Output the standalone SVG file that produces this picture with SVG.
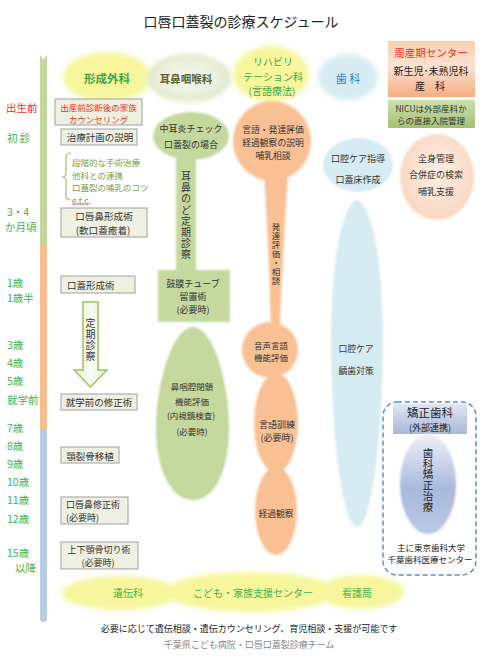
<svg xmlns="http://www.w3.org/2000/svg" width="480" height="665" viewBox="0 0 480 665">
<defs>
<style>
text{font-family:"Noto Sans CJK JP","Noto Sans CJK SC",sans-serif;dominant-baseline:central;text-anchor:middle;fill:#333;}
.lbl{font-size:10.5px;fill:#3db54a;text-anchor:start;}
.box{fill:#eef0e2;stroke:#a8a8a8;stroke-width:1.1;}
.bt{font-size:9.5px;fill:#333;}
.st{font-size:9px;fill:#333;}
.vt{writing-mode:vertical-rl;text-orientation:upright;text-anchor:start;}
.grn{fill:#c5d89e;}
.org{fill:#f9c193;}
.blu{fill:#d7ebf3;}
</style>
<filter id="soft" x="-30%" y="-30%" width="160%" height="160%"><feGaussianBlur stdDeviation="2.5"/></filter>
<filter id="soft1" x="-20%" y="-20%" width="140%" height="140%"><feGaussianBlur stdDeviation="1"/></filter>
<radialGradient id="gEnt" cx="50%" cy="50%" r="50%"><stop offset="0" stop-color="#f4f7ec"/><stop offset="0.7" stop-color="#ebf0dd"/><stop offset="1" stop-color="#dde6c6"/></radialGradient>
<radialGradient id="gPeach" cx="50%" cy="45%" r="55%"><stop offset="0" stop-color="#fdeee4"/><stop offset="1" stop-color="#f9d7c1"/></radialGradient>
<linearGradient id="gPeri" x1="0" y1="0" x2="0" y2="1"><stop offset="0" stop-color="#fbcfb2"/><stop offset="0.45" stop-color="#fde3d2"/><stop offset="1" stop-color="#f5ad80"/></linearGradient>
<linearGradient id="gNicu" x1="0" y1="0" x2="0" y2="1"><stop offset="0" stop-color="#cfe0ad"/><stop offset="1" stop-color="#a3c172"/></linearGradient>
<linearGradient id="gOrtho" x1="0" y1="0" x2="0" y2="1"><stop offset="0" stop-color="#dfe5f1"/><stop offset="1" stop-color="#a9b9d9"/></linearGradient>
<linearGradient id="gOrthoE" x1="0" y1="0" x2="0" y2="1"><stop offset="0" stop-color="#eef1f8"/><stop offset="0.55" stop-color="#a8b9dc"/><stop offset="1" stop-color="#bcc9e4"/></linearGradient>
<linearGradient id="gArrow" x1="0" y1="0" x2="1" y2="0"><stop offset="0" stop-color="#e6efd2"/><stop offset="0.5" stop-color="#f8fbf1"/><stop offset="1" stop-color="#e6efd2"/></linearGradient>
</defs>
<rect width="480" height="665" fill="#fff"/>

<text x="241" y="21" style="font-size:14px;fill:#222">口唇口蓋裂の診療スケジュール</text>

<g id="timeline">
<polygon points="40,55 43.5,59.5 47,55 47,246 40,246" fill="#c3d69b"/>
<rect x="40" y="245" width="7" height="186" fill="#f9bf8f"/>
<path d="M40,430 H47 V619 Q47,622 43.5,622 Q40,622 40,619 Z" fill="#b8cce4"/>
</g>

<g id="age-labels">
<text class="lbl" x="6" y="107" style="fill:#ee3124">出生前</text>
<text class="lbl" x="7" y="137">初 診</text>
<text class="lbl"><tspan x="7" y="211">3・4</tspan><tspan x="5" y="226.3">か月頃</tspan></text>
<text class="lbl"><tspan x="7" y="281.5">1歳</tspan><tspan x="7" y="296.8">1歳半</tspan></text>
<text class="lbl" x="7" y="344">3歳</text>
<text class="lbl" x="7" y="362">4歳</text>
<text class="lbl" x="7" y="380">5歳</text>
<text class="lbl" x="7" y="399">就学前</text>
<text class="lbl" x="7" y="427">7歳</text>
<text class="lbl" x="7" y="445">8歳</text>
<text class="lbl" x="7" y="463">9歳</text>
<text class="lbl" x="7" y="481">10歳</text>
<text class="lbl" x="7" y="499">11歳</text>
<text class="lbl" x="7" y="518">12歳</text>
<text class="lbl"><tspan x="7" y="552">15歳</tspan><tspan x="15" y="567.3">以降</tspan></text>
</g>

<g id="header-plastic">
<ellipse cx="107" cy="77" rx="44" ry="25" fill="#f7f69c" filter="url(#soft)"/>
<text x="107" y="78" style="font-size:11.5px;fill:#39a845;font-weight:bold">形成外科</text>
</g>
<g id="header-ent">
<ellipse cx="189" cy="78" rx="42" ry="24" fill="url(#gEnt)" filter="url(#soft)"/>
<text x="186" y="78" style="font-size:10.5px;fill:#5d6233;font-weight:bold">耳鼻咽喉科</text>
</g>
<g id="header-rehab">
<ellipse cx="271" cy="74" rx="38" ry="28" fill="#f7f69c" filter="url(#soft)"/>
<text style="font-size:10px;fill:#39a845"><tspan x="273" y="61">リハビリ</tspan><tspan x="273" y="75.5">テーション科</tspan><tspan x="272" y="90">(言語療法)</tspan></text>
</g>
<g id="header-dental">
<ellipse cx="348" cy="77" rx="30" ry="23" fill="#d7ebf3" filter="url(#soft)"/>
<text x="348" y="78" style="font-size:11px;fill:#3d7cc9">歯 科</text>
</g>
<g id="perinatal">
<rect x="388" y="41" width="87" height="56" fill="url(#gPeri)"/>
<text style="font-size:10px;fill:#222"><tspan x="431" y="52" style="font-size:10.5px;fill:#ee3124">周産期センター</tspan><tspan x="431" y="70">新生児･未熟児科</tspan><tspan x="430" y="85">産　科</tspan></text>
</g>
<g id="nicu">
<rect x="388" y="100" width="87" height="28" fill="url(#gNicu)"/>
<text class="st" style="font-size:8.5px"><tspan x="431" y="107.5">NICUは外部産科か</tspan><tspan x="431" y="120">らの直接入院管理</tspan></text>
</g>

<g id="prenatal-counseling">
<rect class="box" x="55" y="99" width="87" height="26"/>
<text style="font-size:8.5px;fill:#ee3124"><tspan x="98.5" y="106.5">出産前診断後の家族</tspan><tspan x="98.5" y="119">カウンセリング</tspan></text>
</g>
<g id="treatment-plan">
<rect class="box" x="61" y="129" width="76" height="16"/>
<text class="bt" x="100" y="137">治療計画の説明</text>
</g>
<g id="plan-notes">
<path d="M71,153 Q66,153 66,157 V173 Q66,177 62,177 Q66,177 66,181 V196 Q66,200 71,200" fill="none" stroke="#a3c271" stroke-width="1.2"/>
<text style="font-size:8.5px;fill:#7f9c47;text-anchor:start"><tspan x="72" y="162">段階的な手術治療</tspan><tspan x="72" y="174.5">他科との連携</tspan><tspan x="72" y="187">口蓋裂の哺乳のコツ</tspan><tspan x="72" y="199.5">e.t.c.</tspan></text>
<path d="M72,205 l1.5,-1 l1.5,1 l1.5,-1 l1.5,1 l1.5,-1 l1.5,1 l1.5,-1 l1.5,1 l1.5,-1 l1.5,1 l1.5,-1" fill="none" stroke="#e05050" stroke-width="0.7"/>
</g>
<g id="lip-nose-plasty">
<rect class="box" x="61" y="208" width="86" height="29"/>
<text style="font-size:9.6px"><tspan x="104" y="215.7">口唇鼻形成術</tspan><tspan x="103" y="229.7">(軟口蓋癒着)</tspan></text>
</g>
<g id="palatoplasty">
<rect class="box" x="61" y="276" width="74" height="17"/>
<text class="bt" x="67" y="285" style="text-anchor:start">口蓋形成術</text>
</g>
<g id="preschool-revision">
<rect class="box" x="61" y="394" width="76" height="16"/>
<text class="bt" x="99" y="402">就学前の修正術</text>
</g>
<g id="bone-graft">
<rect class="box" x="61" y="447" width="58" height="16"/>
<text class="bt" x="90" y="455.5">顎裂骨移植</text>
</g>
<g id="lip-nose-revision">
<rect class="box" x="61" y="497" width="67" height="27"/>
<text style="font-size:9px;text-anchor:start"><tspan x="66" y="504">口唇鼻修正術</tspan><tspan x="66" y="517.3">(必要時)</tspan></text>
</g>
<g id="orthognathic">
<rect class="box" x="61" y="542" width="77" height="27"/>
<text style="font-size:9px"><tspan x="99" y="549">上下顎骨切り術</tspan><tspan x="98" y="562.3">(必要時)</tspan></text>
</g>

<g id="connectors">
<polygon points="83,302 98,302 98,370 107,370 90.5,387 74,370 83,370" fill="url(#gArrow)" stroke="#9dc35e" stroke-width="1.5" stroke-linejoin="miter"/>
<text class="vt" x="90.5" y="318.5" style="font-size:10px;letter-spacing:1px">定期診察</text>
</g>

<g id="ent-column">
<g filter="url(#soft1)">
<ellipse class="grn" cx="191" cy="136" rx="38" ry="24"/>
<rect class="grn" x="176" y="150" width="20" height="125"/>
<rect class="grn" x="158" y="270" width="72" height="52"/>
</g>
<text class="st"><tspan x="191" y="128">中耳炎チェック</tspan><tspan x="191" y="144">口蓋裂の場合</tspan></text>
<text class="vt" x="186" y="171.5" style="font-size:10px;letter-spacing:1.1px">耳鼻のど定期診察</text>
<text style="font-size:9px"><tspan x="193" y="283">鼓膜チューブ</tspan><tspan x="193" y="296.2">留置術</tspan><tspan x="193" y="309.4">(必要時)</tspan></text>
</g>
<g id="velopharyngeal">
<path class="grn" filter="url(#soft1)" d="M193,327 C214,327 229,385 229,428 C229,472 214,500 193,500 C172,500 156,472 156,428 C156,385 172,327 193,327 Z"/>
<text style="font-size:8.5px"><tspan x="192" y="386">鼻咽腔閉鎖</tspan><tspan x="192" y="401">機能評価</tspan><tspan x="191" y="415">(内視鏡検査)</tspan><tspan x="192" y="431">(必要時)</tspan></text>
</g>

<g id="rehab-column">
<g filter="url(#soft1)">
<ellipse class="org" cx="272" cy="141" rx="39" ry="40"/>
<path class="org" d="M264,172 C267,225 270,285 271,330 L280,330 C281,285 285,225 288,172 Z"/>
</g>
<text style="font-size:8.8px"><tspan x="273" y="129">言語・発達評価</tspan><tspan x="273" y="142.2">経過観察の説明</tspan><tspan x="273" y="155.4">哺乳相談</tspan></text>
<text class="vt" x="276" y="222.5" style="font-size:8.5px;letter-spacing:0.5px">発達評価・相談</text>
</g>
<g id="voice-eval">
<ellipse class="org" filter="url(#soft1)" cx="270" cy="350" rx="28" ry="28"/>
<text style="font-size:8.5px"><tspan x="271" y="344.5">音声言語</tspan><tspan x="271" y="357">機能評価</tspan></text>
</g>
<g id="speech-training">
<ellipse class="org" filter="url(#soft1)" cx="276" cy="423" rx="22" ry="50"/>
<text style="font-size:9px"><tspan x="277" y="424">言語訓練</tspan><tspan x="277" y="437.3">(必要時)</tspan></text>
</g>
<g id="follow-up">
<ellipse class="org" filter="url(#soft1)" cx="276" cy="511" rx="21" ry="44"/>
<text x="276" y="513" style="font-size:8.8px">経過観察</text>
</g>

<g id="dental-column">
<path class="blu" filter="url(#soft1)" d="M357,200 C372,204 383,262 383,340 C383,430 372,527 357,527 C342,527 331,430 331,340 C331,262 342,204 357,200 Z"/>
<ellipse class="blu" filter="url(#soft1)" cx="358" cy="165" rx="35" ry="27"/>
<text class="st"><tspan x="358" y="158">口腔ケア指導</tspan><tspan x="358" y="179">口蓋床作成</tspan></text>
<text style="font-size:8.8px"><tspan x="356" y="348">口腔ケア</tspan><tspan x="356" y="370">齲歯対策</tspan></text>
</g>

<g id="general-care">
<ellipse cx="437" cy="177" rx="37" ry="43" fill="url(#gPeach)" filter="url(#soft1)"/>
<text class="st"><tspan x="436" y="158">全身管理</tspan><tspan x="436" y="174">合併症の検索</tspan><tspan x="436" y="191">哺乳支援</tspan></text>
</g>

<g id="orthodontics">
<rect x="383" y="402" width="93" height="173" rx="14" fill="none" stroke="#5b8fd6" stroke-width="1.5" stroke-dasharray="5,3"/>
<rect x="393" y="404" width="74" height="30" fill="url(#gOrtho)"/>
<text style="fill:#222"><tspan x="430" y="412" style="font-size:11.5px">矯正歯科</tspan><tspan x="430" y="427" style="font-size:9px">(外部連携)</tspan></text>
<ellipse cx="428" cy="484" rx="28" ry="50" fill="url(#gOrthoE)" filter="url(#soft1)"/>
<text class="vt" x="428" y="447.6" style="font-size:10.5px;letter-spacing:0.3px;fill:#222">歯科矯正治療</text>
<text style="font-size:8.5px;fill:#222"><tspan x="431" y="546.5">主に東京歯科大学</tspan><tspan x="430" y="559">千葉歯科医療センター</tspan></text>
</g>

<g id="support-services">
<g filter="url(#soft)" fill="#f7f69c">
<ellipse cx="120" cy="593" rx="58" ry="17"/>
<ellipse cx="251" cy="592" rx="86" ry="20"/>
<ellipse cx="361" cy="592" rx="43" ry="17"/>
</g>
<text x="128" y="592" style="font-size:10px;fill:#3cb44a">遺伝科</text>
<text x="253" y="592" style="font-size:10px;fill:#3cb44a">こども・家族支援センター</text>
<text x="357" y="592" style="font-size:10px;fill:#3cb44a">看護局</text>
</g>

<text x="249" y="628" style="font-size:9px;fill:#222">必要に応じて遺伝相談・遺伝カウンセリング、育児相談・支援が可能です</text>
<text x="249" y="644" style="font-size:9px;fill:#888">千葉県こども病院・口唇口蓋裂診療チーム</text>
</svg>
